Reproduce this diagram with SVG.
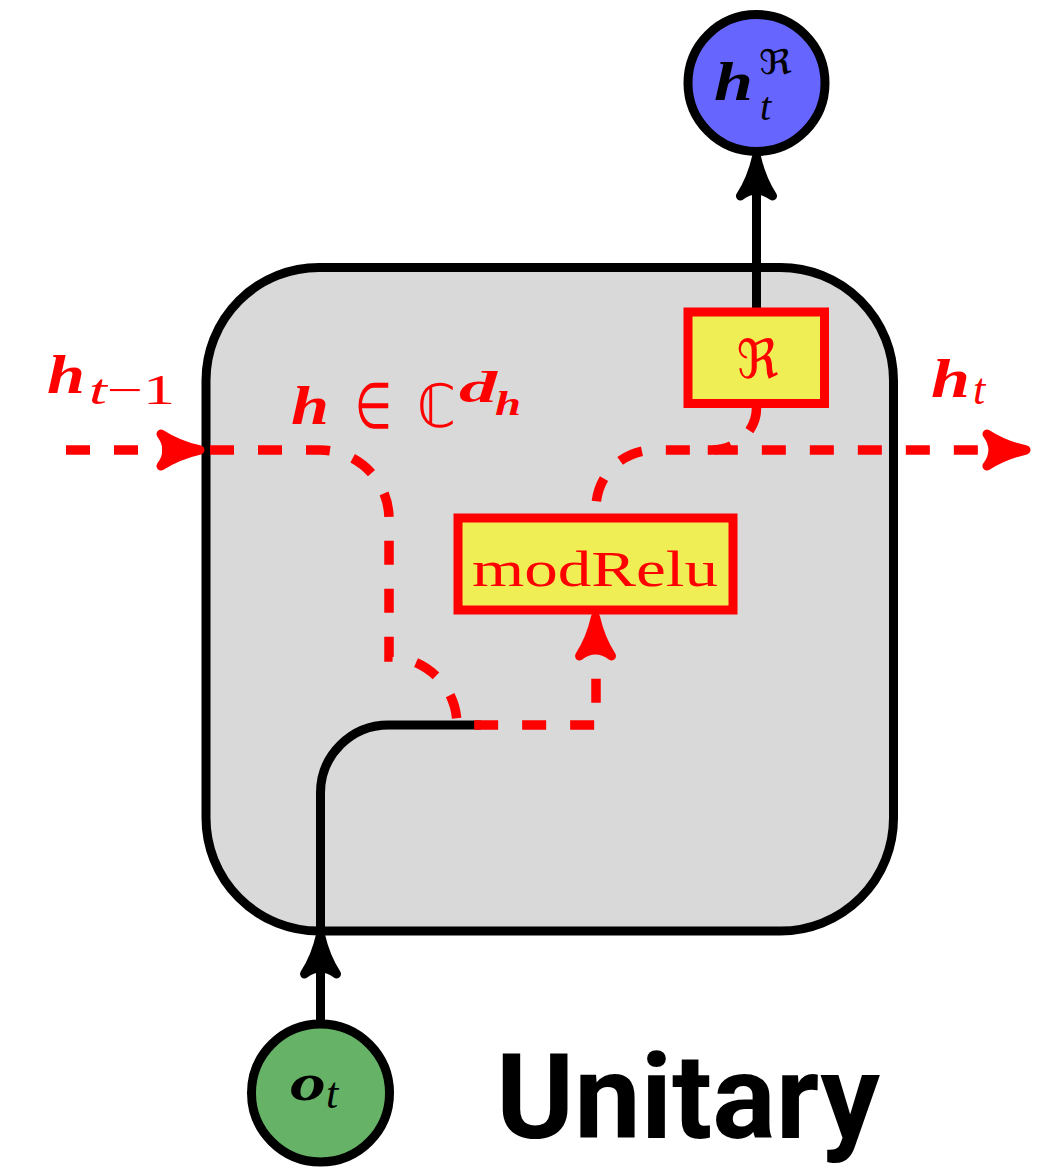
<svg xmlns="http://www.w3.org/2000/svg" xmlns:xlink="http://www.w3.org/1999/xlink" width="1041" height="1170" viewBox="0 0 1041 1170">
<style>
.cell{fill:#d9d9d9;stroke:#000;stroke-width:9}
.blk{fill:none;stroke:#000;stroke-width:9}
.red{fill:none;stroke:#ff0000;stroke-width:9.5;stroke-dasharray:24 24}
.op{fill:#efef55;stroke:#ff0000;stroke-width:9}
.node{stroke:#000;stroke-width:9}
.m{font-family:"Liberation Serif","DejaVu Serif",serif}
.bi{font-weight:bold;font-style:italic}
.it{font-style:italic}
.sym{font-family:"DejaVu Sans","Noto Sans",sans-serif}
.rt{fill:#ff0000}
</style>
<defs>
<path id="ah" d="M -39 -16 Q -22 -5 0 0 Q -22 5 -39 16 Q -27 0 -39 -16 Z" fill="currentColor" stroke="currentColor" stroke-width="9" stroke-linejoin="round"/>
</defs>

<g id="cell">
<rect class="cell" x="206" y="267.5" width="687.5" height="663.5" rx="113" ry="113"/>
</g>

<g id="connectors">
<path class="blk" d="M 320.5 1022 V 793 A 68 68 0 0 1 388.5 725 H 481"/>
<path class="blk" d="M 756.5 308 V 160"/>
<path class="red" d="M 66 450 H 320 A 69 69 0 0 1 389 519 V 657 A 68 68 0 0 1 457 725 H 596 V 655"/>
<path class="red" style="stroke-dashoffset:31.2" d="M 596 518 V 508 A 58 58 0 0 1 654 450 H 990"/>
<path class="red" d="M 756.5 408 A 45 42 0 0 1 711.5 450 H 690"/>
<use xlink:href="#ah" href="#ah" style="color:#ff0000" transform="translate(200,450)"/>
<use xlink:href="#ah" href="#ah" style="color:#ff0000" transform="translate(1026,450)"/>
<use xlink:href="#ah" href="#ah" style="color:#ff0000" transform="translate(595.5,617) rotate(-90)"/>
<use xlink:href="#ah" href="#ah" style="color:#000" transform="translate(756.5,157) rotate(-90)"/>
<use xlink:href="#ah" href="#ah" style="color:#000" transform="translate(320.5,935) rotate(-90)"/>
</g>

<g id="re-op">
<rect class="op" x="688" y="312" width="136.5" height="91.5"/>
<text class="sym rt" x="736.5" y="378" font-size="54" textLength="42" lengthAdjust="spacingAndGlyphs">ℜ</text>
</g>

<g id="modrelu-op">
<rect class="op" x="458" y="518" width="275" height="92"/>
<text class="m rt" x="472" y="586" font-size="50" textLength="246" lengthAdjust="spacingAndGlyphs">modRelu</text>
</g>

<g id="out-node">
<circle class="node" cx="756.5" cy="83" r="68.5" fill="#6666ff"/>
<text class="m bi" x="714" y="100" font-size="54" textLength="39" lengthAdjust="spacingAndGlyphs">h</text>
<text class="sym" x="759" y="74" font-size="34" textLength="33" lengthAdjust="spacingAndGlyphs">ℜ</text>
<text class="m it" x="760" y="120" font-size="40">t</text>
</g>

<g id="in-node">
<circle class="node" cx="320.5" cy="1093" r="69" fill="#66b266"/>
<text class="m bi" x="290" y="1100" font-size="52" textLength="36" lengthAdjust="spacingAndGlyphs">o</text>
<text class="m it" x="326" y="1108" font-size="44">t</text>
</g>

<g id="labels">
<text class="m bi rt" x="47" y="393" font-size="54" textLength="38" lengthAdjust="spacingAndGlyphs">h</text>
<text class="m rt" x="89" y="404" font-size="42" textLength="86" lengthAdjust="spacingAndGlyphs"><tspan class="it">t</tspan>−1</text>
<text class="m bi rt" x="291" y="424" font-size="54" textLength="38" lengthAdjust="spacingAndGlyphs">h</text>
<text class="sym rt" x="355" y="428" font-size="64" textLength="37" lengthAdjust="spacingAndGlyphs">∈</text>
<text class="sym rt" x="417" y="427" font-size="60" textLength="39" lengthAdjust="spacingAndGlyphs">ℂ</text>
<text class="m bi rt" x="459" y="402" font-size="44" textLength="38" lengthAdjust="spacingAndGlyphs">d</text>
<text class="m bi rt" x="495" y="415" font-size="34" textLength="26" lengthAdjust="spacingAndGlyphs">h</text>
<text class="m bi rt" x="931" y="397" font-size="54" textLength="39" lengthAdjust="spacingAndGlyphs">h</text>
<text class="m it rt" x="973" y="404" font-size="44">t</text>
<text x="496" y="1138" font-family="Roboto,'DejaVu Sans',sans-serif" font-weight="bold" font-size="118" textLength="384" lengthAdjust="spacingAndGlyphs">Unitary</text>
</g>
</svg>
